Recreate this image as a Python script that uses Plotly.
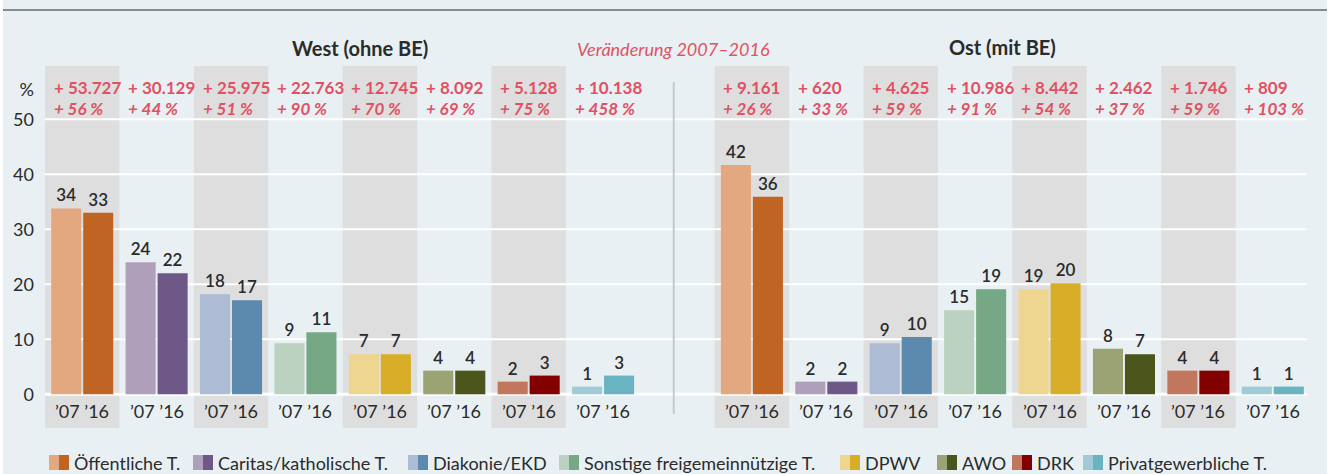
import plotly.graph_objects as go

# ---------------- data ----------------
categories = ["Öffentliche T.", "Caritas/katholische T.", "Diakonie/EKD",
              "Sonstige freigemeinnützige T.", "DPWV", "AWO", "DRK", "Privatgewerbliche T."]
west_07 = [33.8, 24.0, 18.2, 9.3, 7.3, 4.3, 2.3, 1.4]
west_16 = [33.0, 22.0, 17.1, 11.3, 7.3, 4.3, 3.4, 3.4]
east_07 = [41.7, 2.3, 9.3, 15.3, 19.1, 8.3, 4.3, 1.4]
east_16 = [35.9, 2.3, 10.4, 19.1, 20.2, 7.3, 4.3, 1.4]
west_abs = ["53.727", "30.129", "25.975", "22.763", "12.745", "8.092", "5.128", "10.138"]
west_pct = ["56", "44", "51", "90", "70", "69", "75", "458"]
east_abs = ["9.161", "620", "4.625", "10.986", "8.442", "2.462", "1.746", "809"]
east_pct = ["26", "33", "59", "91", "54", "37", "59", "103"]
year_labels = ["’07", "’16"]
y_ticks = [0, 10, 20, 30, 40, 50]

# ---------------- styles ----------------
light = ["#e3a880", "#b09fbb", "#adbbd4", "#bbd2c0", "#eed590", "#9ba274", "#c0775d", "#a0cbd6"]
dark = ["#c06424", "#6e5888", "#5c8aae", "#76a885", "#d8ae28", "#4c561c", "#820000", "#6ab3c1"]
BG = "#e8f0f3"
BAND = "#dedede"
RED = "#e05263"
TXT = "#2b2b2b"
FONT = "Lato, 'Open Sans', sans-serif"

n = len(categories)
west_x = list(range(n))
east_x = [i + n + 1 for i in range(n)]
all_x = west_x + east_x

# plot-area geometry (px) for paper conversion
L, R, T, B = 45, 20, 66, 46
W, H = 1330, 474
PW, PH = W - L - R, H - T - B


def px_x(p):
    return (p - L) / PW


def px_y(p):
    return (H - B - p) / PH


fig = go.Figure()
fig.add_trace(go.Bar(x=all_x, y=west_07 + east_07, marker=dict(color=light + light, line_width=0),
                     name=year_labels[0], texttemplate="%{y:.0f}", textposition="outside",
                     textfont=dict(size=17, color=TXT, family=FONT, weight=600), cliponaxis=False))
fig.add_trace(go.Bar(x=all_x, y=west_16 + east_16, marker=dict(color=dark + dark, line_width=0),
                     name=year_labels[1], texttemplate="%{y:.0f}", textposition="outside",
                     textfont=dict(size=17, color=TXT, family=FONT, weight=600), cliponaxis=False))

shapes = []
# grey bands
for i in range(0, n, 2):
    for xx in (west_x[i], east_x[i]):
        shapes.append(dict(type="rect", xref="x", yref="paper", x0=xx - 0.5, x1=xx + 0.5,
                           y0=0, y1=1, fillcolor=BAND, line_width=0, layer="below"))
# gridlines
for v in y_ticks:
    shapes.append(dict(type="line", xref="x", yref="y", x0=-0.53, x1=16.46, y0=v, y1=v,
                       line=dict(color="white", width=3 if v == 0 else 2), layer="below"))
# divider
shapes.append(dict(type="line", xref="x", yref="y", x0=n - 0.05, x1=n - 0.05, y0=56.8, y1=-3.6,
                   line=dict(color="#c6cacc", width=2), layer="below"))
# top rule
shapes.append(dict(type="line", xref="paper", yref="paper", x0=px_x(3), x1=px_x(1327),
                   y0=px_y(10), y1=px_y(10), line=dict(color="#8a8a8a", width=2)))
# white strips at the edges
shapes.append(dict(type="rect", xref="paper", yref="paper", x0=px_x(1327), x1=px_x(1340),
                   y0=px_y(480), y1=px_y(-5), fillcolor="white", line_width=0, layer="below"))
shapes.append(dict(type="rect", xref="paper", yref="paper", x0=px_x(-5), x1=px_x(3),
                   y0=px_y(480), y1=px_y(-5), fillcolor="white", line_width=0, layer="below"))

annotations = []
# change annotations
for xs, ab, pc in ((west_x, west_abs, west_pct), (east_x, east_abs, east_pct)):
    for xx, a, p in zip(xs, ab, pc):
        annotations.append(dict(x=xx - 0.41, y=px_y(88), xref="x", yref="paper", xanchor="left",
                                yanchor="middle", showarrow=False, text=f"<b>+ {a}</b>",
                                font=dict(size=17, color=RED, family=FONT)))
        annotations.append(dict(x=xx - 0.41, y=px_y(108), xref="x", yref="paper", xanchor="left",
                                yanchor="middle", showarrow=False, text=f"<b><i>+ {p} %</i></b>",
                                font=dict(size=17, color=RED, family=FONT)))
# year tick labels
for xx in all_x:
    annotations.append(dict(x=xx, y=px_y(411), xref="x", yref="paper", xanchor="center",
                            yanchor="middle", showarrow=False,
                            text=f"{year_labels[0]} {year_labels[1]}",
                            font=dict(size=18, color=TXT, family=FONT)))
# headers
annotations.append(dict(x=px_x(359.5), y=px_y(48), xref="paper", yref="paper", showarrow=False,
                        xanchor="center", yanchor="middle", text="<b>West (ohne BE)</b>",
                        font=dict(size=20, color=TXT, family=FONT)))
annotations.append(dict(x=px_x(673), y=px_y(49), xref="paper", yref="paper", showarrow=False,
                        xanchor="center", yanchor="middle", text="<i>Veränderung 2007–2016</i>",
                        font=dict(size=18, color=RED, family=FONT)))
annotations.append(dict(x=px_x(1002.5), y=px_y(47), xref="paper", yref="paper", showarrow=False,
                        xanchor="center", yanchor="middle", text="<b>Ost (mit BE)</b>",
                        font=dict(size=20, color=TXT, family=FONT)))
# legend
legend_px = [49, 193, 408, 559, 840, 937, 1012, 1083]
for cat, lc, dc, lx in zip(categories, light, dark, legend_px):
    shapes.append(dict(type="rect", xref="paper", yref="paper", x0=px_x(lx), x1=px_x(lx + 10),
                       y0=px_y(470), y1=px_y(455), fillcolor=lc, line_width=0))
    shapes.append(dict(type="rect", xref="paper", yref="paper", x0=px_x(lx + 10), x1=px_x(lx + 20),
                       y0=px_y(470), y1=px_y(455), fillcolor=dc, line_width=0))
    annotations.append(dict(x=px_x(lx + 23), y=px_y(462.5), xref="paper", yref="paper",
                            xanchor="left", yanchor="middle", showarrow=False, text=cat,
                            font=dict(size=18, color=TXT, family=FONT)))

fig.update_layout(
    width=W, height=H, margin=dict(l=L, r=R, t=T, b=B),
    paper_bgcolor=BG, plot_bgcolor=BG,
    font=dict(family=FONT, color=TXT),
    barmode="group", bargap=0.14, bargroupgap=0.06,
    showlegend=False, shapes=shapes, annotations=annotations,
    xaxis=dict(range=[-0.5, 2 * n + 0.5], showgrid=False, zeroline=False, showticklabels=False,
               fixedrange=True),
    yaxis=dict(range=[-6.13, 59.69], showgrid=False, zeroline=False,
               tickvals=y_ticks + [55.3], ticktext=[str(v) for v in y_ticks] + ["%"],
               tickfont=dict(size=18, color=TXT, family=FONT), ticks="", ticklabelstandoff=10,
               fixedrange=True),
)

fig.write_html("out.html", config={"displayModeBar": False},
               post_script="document.body.style.margin='0';document.body.style.overflow='hidden';")
